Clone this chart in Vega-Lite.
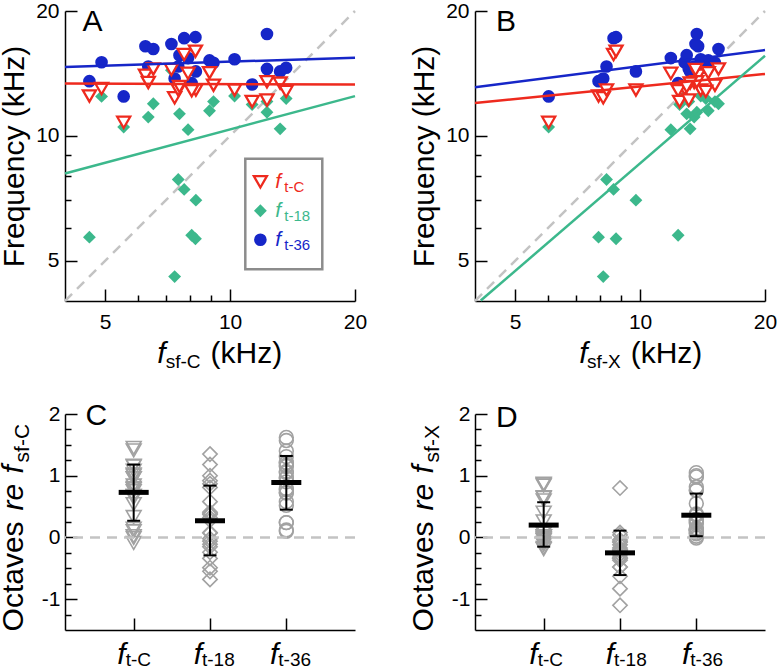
{
"$schema":"https://vega.github.io/schema/vega-lite/v6.json",
"padding":{"left":-2,"top":0,"right":0,"bottom":0},
"config":{
 "font":"Liberation Sans",
 "view":{"stroke":null},
 "axis":{"domainColor":"#000","domainWidth":1.5,"tickColor":"#000","tickWidth":1.5,"labelColor":"#000","labelFontSize":21,"labelFont":"Liberation Sans","grid":false,"titleFont":"Liberation Sans","titleFontSize":30,"titleFontWeight":"normal","titleColor":"#000","labelFlush":false,"labelOverlap":false},
 "text":{"font":"Liberation Sans","color":"#000"}
},
"datasets":{
 "subj":[
  {"fC":4.58,"fX":7.94,"tC":12.48,"t18":5.70,"t36":13.55},
  {"fC":4.90,"fX":12.8,"tC":13.0,"t18":12.45,"t36":15.05},
  {"fC":5.54,"fX":6.02,"tC":10.78,"t18":10.5,"t36":12.45},
  {"fC":6.25,"fX":13.8,"tC":14.0,"t18":14.2,"t36":16.45},
  {"fC":6.35,"fX":13.5,"tC":13.45,"t18":11.1,"t36":14.7},
  {"fC":6.53,"fX":15.45,"tC":14.5,"t18":11.95,"t36":16.2},
  {"fC":7.22,"fX":13.6,"tC":14.45,"t18":14.4,"t36":16.65},
  {"fC":7.35,"fX":8.15,"tC":12.35,"t18":4.58,"t36":13.75},
  {"fC":7.75,"fX":8.63,"tC":15.7,"t18":7.43,"t36":17.2},
  {"fC":8.25,"fX":8.75,"tC":16.0,"t18":5.65,"t36":17.3},
  {"fC":8.27,"fX":9.77,"tC":12.9,"t18":7.0,"t36":14.3},
  {"fC":8.08,"fX":12.35,"tC":12.85,"t18":5.76,"t36":13.4},
  {"fC":7.5,"fX":8.3,"tC":12.9,"t18":7.85,"t36":14.7},
  {"fC":7.92,"fX":11.86,"tC":14.15,"t18":10.35,"t36":15.4},
  {"fC":8.92,"fX":14.6,"tC":14.2,"t18":11.5,"t36":15.2},
  {"fC":9.12,"fX":15.15,"tC":13.25,"t18":12.1,"t36":15.0},
  {"fC":10.25,"fX":14.0,"tC":12.9,"t18":12.48,"t36":15.3},
  {"fC":11.3,"fX":12.45,"tC":12.1,"t18":11.9,"t36":13.3},
  {"fC":12.27,"fX":13.7,"tC":13.5,"t18":11.4,"t36":17.6},
  {"fC":12.27,"fX":13.1,"tC":12.2,"t18":12.1,"t36":14.5},
  {"fC":13.2,"fX":13.2,"tC":13.4,"t18":10.4,"t36":14.3},
  {"fC":13.65,"fX":14.4,"tC":12.8,"t18":12.3,"t36":14.6},
  {"fC":7.55,"fX":12.95,"tC":13.15,"t18":11.3,"t36":15.65}
 ],
 "oct":[
  {"g":"t-C","oc":1.45,"ox":0.65},{"g":"t-C","oc":1.41,"ox":0.02},{"g":"t-C","oc":0.96,"ox":0.84},{"g":"t-C","oc":1.16,"ox":0.02},
  {"g":"t-C","oc":1.08,"ox":-0.01},{"g":"t-C","oc":1.15,"ox":-0.09},{"g":"t-C","oc":1.00,"ox":0.09},{"g":"t-C","oc":0.75,"ox":0.60},
  {"g":"t-C","oc":1.02,"ox":0.86},{"g":"t-C","oc":0.96,"ox":0.87},{"g":"t-C","oc":0.64,"ox":0.40},{"g":"t-C","oc":0.67,"ox":0.06},
  {"g":"t-C","oc":0.78,"ox":0.64},{"g":"t-C","oc":0.84,"ox":0.26},{"g":"t-C","oc":0.67,"ox":-0.04},{"g":"t-C","oc":0.54,"ox":-0.19},
  {"g":"t-C","oc":0.33,"ox":-0.12},{"g":"t-C","oc":0.10,"ox":-0.04},{"g":"t-C","oc":0.14,"ox":-0.02},{"g":"t-C","oc":-0.01,"ox":-0.10},
  {"g":"t-C","oc":0.02,"ox":0.02},{"g":"t-C","oc":-0.09,"ox":-0.17},{"g":"t-C","oc":0.80,"ox":0.02},
  {"g":"t-18","oc":0.32,"ox":-0.48},{"g":"t-18","oc":1.35,"ox":-0.04},{"g":"t-18","oc":0.92,"ox":0.80},{"g":"t-18","oc":1.18,"ox":0.04},
  {"g":"t-18","oc":0.81,"ox":-0.28},{"g":"t-18","oc":0.87,"ox":-0.37},{"g":"t-18","oc":1.00,"ox":0.08},{"g":"t-18","oc":-0.68,"ox":-0.83},
  {"g":"t-18","oc":-0.06,"ox":-0.22},{"g":"t-18","oc":-0.55,"ox":-0.63},{"g":"t-18","oc":-0.24,"ox":-0.48},{"g":"t-18","oc":-0.49,"ox":-1.10},
  {"g":"t-18","oc":0.07,"ox":-0.08},{"g":"t-18","oc":0.39,"ox":-0.20},{"g":"t-18","oc":0.37,"ox":-0.34},{"g":"t-18","oc":0.41,"ox":-0.32},
  {"g":"t-18","oc":0.28,"ox":-0.17},{"g":"t-18","oc":0.08,"ox":-0.07},{"g":"t-18","oc":-0.11,"ox":-0.27},{"g":"t-18","oc":-0.02,"ox":-0.12},
  {"g":"t-18","oc":-0.34,"ox":-0.34},{"g":"t-18","oc":-0.15,"ox":-0.23},{"g":"t-18","oc":0.58,"ox":-0.20},
  {"g":"t-36","oc":1.57,"ox":0.77},{"g":"t-36","oc":1.62,"ox":0.23},{"g":"t-36","oc":1.17,"ox":1.05},{"g":"t-36","oc":1.40,"ox":0.25},
  {"g":"t-36","oc":1.21,"ox":0.12},{"g":"t-36","oc":1.31,"ox":0.07},{"g":"t-36","oc":1.21,"ox":0.29},{"g":"t-36","oc":0.90,"ox":0.76},
  {"g":"t-36","oc":1.15,"ox":1.00},{"g":"t-36","oc":1.07,"ox":0.98},{"g":"t-36","oc":0.79,"ox":0.55},{"g":"t-36","oc":0.73,"ox":0.12},
  {"g":"t-36","oc":0.97,"ox":0.82},{"g":"t-36","oc":0.96,"ox":0.38},{"g":"t-36","oc":0.77,"ox":0.06},{"g":"t-36","oc":0.72,"ox":-0.01},
  {"g":"t-36","oc":0.58,"ox":0.13},{"g":"t-36","oc":0.24,"ox":0.10},{"g":"t-36","oc":0.52,"ox":0.36},{"g":"t-36","oc":0.24,"ox":0.15},
  {"g":"t-36","oc":0.12,"ox":0.12},{"g":"t-36","oc":0.10,"ox":0.02},{"g":"t-36","oc":1.05,"ox":0.27}
 ],
 "summC":[
  {"g":"t-C","m":0.73,"lo":0.27,"hi":1.18},
  {"g":"t-18","m":0.27,"lo":-0.29,"hi":0.84},
  {"g":"t-36","m":0.89,"lo":0.45,"hi":1.32}
 ],
 "summX":[
  {"g":"t-C","m":0.2,"lo":-0.15,"hi":0.57},
  {"g":"t-18","m":-0.25,"lo":-0.61,"hi":0.11},
  {"g":"t-36","m":0.36,"lo":0.02,"hi":0.71}
 ],
 "cats":[{"g":"t-C"},{"g":"t-18"},{"g":"t-36"}],
 "linesA":[
  {"g":"t-C","x":4,"y":13.38},{"g":"t-C","x":20,"y":13.3},
  {"g":"t-18","x":4,"y":8.12},{"g":"t-18","x":20,"y":12.47},
  {"g":"t-36","x":4,"y":14.66},{"g":"t-36","x":20,"y":15.44}
 ],
 "linesB":[
  {"g":"t-C","x":4,"y":12.0},{"g":"t-C","x":20,"y":14.1},
  {"g":"t-18","x":4.13,"y":4.01},{"g":"t-18","x":20,"y":15.6},
  {"g":"t-36","x":4,"y":13.1},{"g":"t-36","x":20,"y":16.1}
 ],
 "diag":[{"x":4,"y":4},{"x":20,"y":20}],
 "one":[{}]
},
"columns":2,
"spacing":{"row":113,"column":120},
"bounds":"flush",
"concat":[
 {
  "width":290,"height":290,
  "layer":[
   {"data":{"name":"diag"},"mark":{"type":"line","color":"#c3c3c3","strokeWidth":2.5,"strokeDash":[10,7]},
    "encoding":{
     "x":{"field":"x","type":"quantitative","scale":{"type":"log","domain":[4,20],"nice":false},
      "axis":{"values":[5,6,7,8,9,10,20],"labelExpr":"indexof([5,10,20], datum.value) >= 0 ? '' + datum.value : ''","tickSize":{"condition":{"test":"indexof([5,10,20], datum.value) >= 0","value":-12},"value":-6},"labelPadding":22,"title":null}},
     "y":{"field":"y","type":"quantitative","scale":{"type":"log","domain":[4,20],"nice":false},
      "axis":{"values":[5,6,7,8,9,10,20],"labelExpr":"indexof([5,10,20], datum.value) >= 0 ? '' + datum.value : ''","tickSize":{"condition":{"test":"indexof([5,10,20], datum.value) >= 0","value":-12},"value":-6},"labelPadding":18,"title":"Frequency (kHz)","titlePadding":6}}}},
   {"data":{"name":"subj"},"mark":{"type":"point","shape":"diamond","filled":true,"color":"#3cb88c","size":165,"opacity":1},
    "encoding":{"x":{"field":"fC","type":"quantitative","scale":{"type":"log","domain":[4,20],"nice":false}},
     "y":{"field":"t18","type":"quantitative","scale":{"type":"log","domain":[4,20],"nice":false}}}},
   {"data":{"name":"subj"},"mark":{"type":"point","shape":"circle","filled":true,"color":"#1626c8","size":160,"opacity":1},
    "encoding":{"x":{"field":"fC","type":"quantitative","scale":{"type":"log","domain":[4,20],"nice":false}},
     "y":{"field":"t36","type":"quantitative","scale":{"type":"log","domain":[4,20],"nice":false}}}},
   {"data":{"name":"subj"},"mark":{"type":"point","shape":"triangle-down","filled":true,"fill":"white","stroke":"#ee2a1e","strokeWidth":2.3,"size":170,"opacity":1},
    "encoding":{"x":{"field":"fC","type":"quantitative","scale":{"type":"log","domain":[4,20],"nice":false}},
     "y":{"field":"tC","type":"quantitative","scale":{"type":"log","domain":[4,20],"nice":false}}}},
   {"data":{"name":"linesA"},"mark":{"type":"line","strokeWidth":2.5},
    "encoding":{"x":{"field":"x","type":"quantitative","scale":{"type":"log","domain":[4,20],"nice":false}},
     "y":{"field":"y","type":"quantitative","scale":{"type":"log","domain":[4,20],"nice":false}},
     "color":{"field":"g","type":"nominal","scale":{"domain":["t-C","t-18","t-36"],"range":["#ee2a1e","#3cb88c","#1626c8"]},"legend":null}}},
   {"data":{"name":"one"},"mark":{"type":"rect","filled":false,"stroke":"#8c8c8c","strokeWidth":2.5},
    "encoding":{"x":{"datum":10.88,"type":"quantitative","scale":{"type":"log","domain":[4,20],"nice":false}},"x2":{"datum":16.68},
     "y":{"datum":8.81,"type":"quantitative","scale":{"type":"log","domain":[4,20],"nice":false}},"y2":{"datum":4.77}}},
   {"data":{"name":"one"},"mark":{"type":"point","shape":"triangle-down","filled":true,"fill":"white","stroke":"#ee2a1e","strokeWidth":2.3,"size":170,"opacity":1},
    "encoding":{"x":{"datum":11.83,"type":"quantitative","scale":{"type":"log","domain":[4,20],"nice":false}},
     "y":{"datum":7.75,"type":"quantitative","scale":{"type":"log","domain":[4,20],"nice":false}}}},
   {"data":{"name":"one"},"mark":{"type":"point","shape":"diamond","filled":true,"color":"#3cb88c","size":165,"opacity":1},
    "encoding":{"x":{"datum":11.83,"type":"quantitative","scale":{"type":"log","domain":[4,20],"nice":false}},
     "y":{"datum":6.6,"type":"quantitative","scale":{"type":"log","domain":[4,20],"nice":false}}}},
   {"data":{"name":"one"},"mark":{"type":"point","shape":"circle","filled":true,"color":"#1626c8","size":160,"opacity":1},
    "encoding":{"x":{"datum":11.83,"type":"quantitative","scale":{"type":"log","domain":[4,20],"nice":false}},
     "y":{"datum":5.62,"type":"quantitative","scale":{"type":"log","domain":[4,20],"nice":false}}}},
   {"data":{"name":"one"},"mark":{"type":"text","text":"f","fontStyle":"italic","fontSize":21,"color":"#ee2a1e","align":"left","baseline":"alphabetic","dy":6.5},
    "encoding":{"x":{"datum":12.85,"type":"quantitative","scale":{"type":"log","domain":[4,20],"nice":false}},
     "y":{"datum":7.75,"type":"quantitative","scale":{"type":"log","domain":[4,20],"nice":false}}}},
   {"data":{"name":"one"},"mark":{"type":"text","text":"t-C","fontSize":15,"color":"#ee2a1e","align":"left","baseline":"alphabetic","dx":9,"dy":10},
    "encoding":{"x":{"datum":12.85,"type":"quantitative","scale":{"type":"log","domain":[4,20],"nice":false}},
     "y":{"datum":7.75,"type":"quantitative","scale":{"type":"log","domain":[4,20],"nice":false}}}},
   {"data":{"name":"one"},"mark":{"type":"text","text":"f","fontStyle":"italic","fontSize":21,"color":"#3cb88c","align":"left","baseline":"alphabetic","dy":6.5},
    "encoding":{"x":{"datum":12.85,"type":"quantitative","scale":{"type":"log","domain":[4,20],"nice":false}},
     "y":{"datum":6.6,"type":"quantitative","scale":{"type":"log","domain":[4,20],"nice":false}}}},
   {"data":{"name":"one"},"mark":{"type":"text","text":"t-18","fontSize":15,"color":"#3cb88c","align":"left","baseline":"alphabetic","dx":9,"dy":10},
    "encoding":{"x":{"datum":12.85,"type":"quantitative","scale":{"type":"log","domain":[4,20],"nice":false}},
     "y":{"datum":6.6,"type":"quantitative","scale":{"type":"log","domain":[4,20],"nice":false}}}},
   {"data":{"name":"one"},"mark":{"type":"text","text":"f","fontStyle":"italic","fontSize":21,"color":"#1626c8","align":"left","baseline":"alphabetic","dy":6.5},
    "encoding":{"x":{"datum":12.85,"type":"quantitative","scale":{"type":"log","domain":[4,20],"nice":false}},
     "y":{"datum":5.62,"type":"quantitative","scale":{"type":"log","domain":[4,20],"nice":false}}}},
   {"data":{"name":"one"},"mark":{"type":"text","text":"t-36","fontSize":15,"color":"#1626c8","align":"left","baseline":"alphabetic","dx":9,"dy":10},
    "encoding":{"x":{"datum":12.85,"type":"quantitative","scale":{"type":"log","domain":[4,20],"nice":false}},
     "y":{"datum":5.62,"type":"quantitative","scale":{"type":"log","domain":[4,20],"nice":false}}}},
   {"data":{"name":"one"},"mark":{"type":"text","text":"A","fontSize":30,"align":"left","baseline":"alphabetic","dx":17.5,"dy":19.5},
    "encoding":{"x":{"datum":4,"type":"quantitative","scale":{"type":"log","domain":[4,20],"nice":false}},
     "y":{"datum":20,"type":"quantitative","scale":{"type":"log","domain":[4,20],"nice":false}}}},
   {"data":{"name":"one"},"mark":{"type":"text","text":"f","fontStyle":"italic","fontSize":30,"align":"right","baseline":"alphabetic","dx":-44.5,"dy":62},
    "encoding":{"x":{"datum":8.944,"type":"quantitative","scale":{"type":"log","domain":[4,20],"nice":false}},
     "y":{"datum":4,"type":"quantitative","scale":{"type":"log","domain":[4,20],"nice":false}}}},
   {"data":{"name":"one"},"mark":{"type":"text","text":"sf-C","fontSize":19,"align":"right","baseline":"alphabetic","dx":-9.5,"dy":67},
    "encoding":{"x":{"datum":8.944,"type":"quantitative","scale":{"type":"log","domain":[4,20],"nice":false}},
     "y":{"datum":4,"type":"quantitative","scale":{"type":"log","domain":[4,20],"nice":false}}}},
   {"data":{"name":"one"},"mark":{"type":"text","text":"(kHz)","fontSize":30,"align":"left","baseline":"alphabetic","dx":0.5,"dy":62},
    "encoding":{"x":{"datum":8.944,"type":"quantitative","scale":{"type":"log","domain":[4,20],"nice":false}},
     "y":{"datum":4,"type":"quantitative","scale":{"type":"log","domain":[4,20],"nice":false}}}}
  ]
 },
 {
  "width":290,"height":290,
  "layer":[
   {"data":{"name":"diag"},"mark":{"type":"line","color":"#c3c3c3","strokeWidth":2.5,"strokeDash":[10,7]},
    "encoding":{
     "x":{"field":"x","type":"quantitative","scale":{"type":"log","domain":[4,20],"nice":false},
      "axis":{"values":[5,6,7,8,9,10,20],"labelExpr":"indexof([5,10,20], datum.value) >= 0 ? '' + datum.value : ''","tickSize":{"condition":{"test":"indexof([5,10,20], datum.value) >= 0","value":-12},"value":-6},"labelPadding":22,"title":null}},
     "y":{"field":"y","type":"quantitative","scale":{"type":"log","domain":[4,20],"nice":false},
      "axis":{"values":[5,6,7,8,9,10,20],"labelExpr":"indexof([5,10,20], datum.value) >= 0 ? '' + datum.value : ''","tickSize":{"condition":{"test":"indexof([5,10,20], datum.value) >= 0","value":-12},"value":-6},"labelPadding":18,"title":"Frequency (kHz)","titlePadding":6}}}},
   {"data":{"name":"subj"},"mark":{"type":"point","shape":"diamond","filled":true,"color":"#3cb88c","size":165,"opacity":1},
    "encoding":{"x":{"field":"fX","type":"quantitative","scale":{"type":"log","domain":[4,20],"nice":false}},
     "y":{"field":"t18","type":"quantitative","scale":{"type":"log","domain":[4,20],"nice":false}}}},
   {"data":{"name":"subj"},"mark":{"type":"point","shape":"circle","filled":true,"color":"#1626c8","size":160,"opacity":1},
    "encoding":{"x":{"field":"fX","type":"quantitative","scale":{"type":"log","domain":[4,20],"nice":false}},
     "y":{"field":"t36","type":"quantitative","scale":{"type":"log","domain":[4,20],"nice":false}}}},
   {"data":{"name":"subj"},"mark":{"type":"point","shape":"triangle-down","filled":true,"fill":"white","stroke":"#ee2a1e","strokeWidth":2.3,"size":170,"opacity":1},
    "encoding":{"x":{"field":"fX","type":"quantitative","scale":{"type":"log","domain":[4,20],"nice":false}},
     "y":{"field":"tC","type":"quantitative","scale":{"type":"log","domain":[4,20],"nice":false}}}},
   {"data":{"name":"linesB"},"mark":{"type":"line","strokeWidth":2.5},
    "encoding":{"x":{"field":"x","type":"quantitative","scale":{"type":"log","domain":[4,20],"nice":false}},
     "y":{"field":"y","type":"quantitative","scale":{"type":"log","domain":[4,20],"nice":false}},
     "color":{"field":"g","type":"nominal","scale":{"domain":["t-C","t-18","t-36"],"range":["#ee2a1e","#3cb88c","#1626c8"]},"legend":null}}},
   {"data":{"name":"one"},"mark":{"type":"text","text":"B","fontSize":30,"align":"left","baseline":"alphabetic","dx":21,"dy":19.5},
    "encoding":{"x":{"datum":4,"type":"quantitative","scale":{"type":"log","domain":[4,20],"nice":false}},
     "y":{"datum":20,"type":"quantitative","scale":{"type":"log","domain":[4,20],"nice":false}}}},
   {"data":{"name":"one"},"mark":{"type":"text","text":"f","fontStyle":"italic","fontSize":30,"align":"right","baseline":"alphabetic","dx":-32.3,"dy":62},
    "encoding":{"x":{"datum":8.944,"type":"quantitative","scale":{"type":"log","domain":[4,20],"nice":false}},
     "y":{"datum":4,"type":"quantitative","scale":{"type":"log","domain":[4,20],"nice":false}}}},
   {"data":{"name":"one"},"mark":{"type":"text","text":"sf-X","fontSize":19,"align":"right","baseline":"alphabetic","dx":0.7,"dy":67},
    "encoding":{"x":{"datum":8.944,"type":"quantitative","scale":{"type":"log","domain":[4,20],"nice":false}},
     "y":{"datum":4,"type":"quantitative","scale":{"type":"log","domain":[4,20],"nice":false}}}},
   {"data":{"name":"one"},"mark":{"type":"text","text":"(kHz)","fontSize":30,"align":"left","baseline":"alphabetic","dx":10.7,"dy":62},
    "encoding":{"x":{"datum":8.944,"type":"quantitative","scale":{"type":"log","domain":[4,20],"nice":false}},
     "y":{"datum":4,"type":"quantitative","scale":{"type":"log","domain":[4,20],"nice":false}}}}
  ]
 },
 {
  "width":290,"height":216,
  "resolve":{"axis":{"y":"independent"}},
  "layer":[
   {"data":{"name":"oct"},"mark":{"type":"point","filled":false,"color":"#a2a2a2","strokeWidth":1.6,"opacity":1},
    "encoding":{
     "x":{"field":"g","type":"nominal","scale":{"type":"point","domain":["t-C","t-18","t-36"],"padding":0.9},"axis":{"labels":false,"tickSize":-12,"title":null}},
     "y":{"field":"oc","type":"quantitative","scale":{"domain":[-1.5,2],"nice":false,"zero":false},
      "axis":{"orient":"left","values":[-1,0,1,2],"labelExpr":"datum.value < 0 ? '-' + (0 - datum.value) : '' + datum.value","tickSize":-12,"labelPadding":17,"title":null}},
     "shape":{"field":"g","type":"nominal","scale":{"domain":["t-C","t-18","t-36"],"range":["triangle-down","diamond","circle"]},"legend":null},
     "size":{"field":"g","type":"nominal","scale":{"domain":["t-C","t-18","t-36"],"range":[220,190,150]},"legend":null}}},
   {"data":{"name":"one"},"mark":{"type":"rule","color":"#c3c3c3","strokeWidth":2.5,"strokeDash":[10,7]},
    "encoding":{"y":{"datum":0,"type":"quantitative","scale":{"domain":[-1.5,2],"nice":false,"zero":false},
     "axis":{"orient":"left","values":[-1.25,-0.75,-0.5,-0.25,0.25,0.5,0.75,1.25,1.5,1.75],"tickSize":-6,"labels":false,"domain":false,"title":null}}}},
   {"data":{"name":"summC"},"mark":{"type":"rule","color":"#000","strokeWidth":2},
    "encoding":{"x":{"field":"g","type":"nominal","scale":{"type":"point","domain":["t-C","t-18","t-36"],"padding":0.9}},
     "y":{"field":"lo","type":"quantitative","scale":{"domain":[-1.5,2],"nice":false,"zero":false},"axis":null},"y2":{"field":"hi"}}},
   {"data":{"name":"summC"},"mark":{"type":"tick","orient":"horizontal","color":"#000","size":13,"thickness":2,"opacity":1},
    "encoding":{"x":{"field":"g","type":"nominal","scale":{"type":"point","domain":["t-C","t-18","t-36"],"padding":0.9}},
     "y":{"field":"lo","type":"quantitative","scale":{"domain":[-1.5,2],"nice":false,"zero":false},"axis":null}}},
   {"data":{"name":"summC"},"mark":{"type":"tick","orient":"horizontal","color":"#000","size":13,"thickness":2,"opacity":1},
    "encoding":{"x":{"field":"g","type":"nominal","scale":{"type":"point","domain":["t-C","t-18","t-36"],"padding":0.9}},
     "y":{"field":"hi","type":"quantitative","scale":{"domain":[-1.5,2],"nice":false,"zero":false},"axis":null}}},
   {"data":{"name":"summC"},"mark":{"type":"tick","orient":"horizontal","color":"#000","size":30,"thickness":5,"opacity":1},
    "encoding":{"x":{"field":"g","type":"nominal","scale":{"type":"point","domain":["t-C","t-18","t-36"],"padding":0.9}},
     "y":{"field":"m","type":"quantitative","scale":{"domain":[-1.5,2],"nice":false,"zero":false},"axis":null}}},
   {"data":{"name":"one"},"mark":{"type":"text","text":"C","fontSize":30,"align":"left","baseline":"alphabetic","dx":-48.3,"dy":11},
    "encoding":{"x":{"datum":"t-C","type":"nominal","scale":{"type":"point","domain":["t-C","t-18","t-36"],"padding":0.9}},
     "y":{"datum":2,"type":"quantitative","scale":{"domain":[-1.5,2],"nice":false,"zero":false},"axis":null}}},
   {"data":{"name":"cats"},"mark":{"type":"text","text":"f","fontStyle":"italic","fontSize":30,"align":"right","baseline":"alphabetic","dx":-8,"dy":33.5},
    "encoding":{"x":{"field":"g","type":"nominal","scale":{"type":"point","domain":["t-C","t-18","t-36"],"padding":0.9}},
     "y":{"datum":-1.5,"type":"quantitative","scale":{"domain":[-1.5,2],"nice":false,"zero":false},"axis":null}}},
   {"data":{"name":"cats"},"mark":{"type":"text","fontSize":19,"align":"left","baseline":"alphabetic","dx":-8,"dy":36},
    "encoding":{"x":{"field":"g","type":"nominal","scale":{"type":"point","domain":["t-C","t-18","t-36"],"padding":0.9}},
     "y":{"datum":-1.5,"type":"quantitative","scale":{"domain":[-1.5,2],"nice":false,"zero":false},"axis":null},
     "text":{"field":"g"}}},
   {"data":{"name":"one"},"mark":{"type":"text","text":"Octaves","fontSize":30,"angle":270,"align":"left","baseline":"alphabetic","dx":-94,"dy":-111},
    "encoding":{"x":{"datum":"t-C","type":"nominal","scale":{"type":"point","domain":["t-C","t-18","t-36"],"padding":0.9}},
     "y":{"datum":0,"type":"quantitative","scale":{"domain":[-1.5,2],"nice":false,"zero":false},"axis":null}}},
   {"data":{"name":"one"},"mark":{"type":"text","text":"re","fontStyle":"italic","fontSize":30,"angle":270,"align":"left","baseline":"alphabetic","dx":27,"dy":-111},
    "encoding":{"x":{"datum":"t-C","type":"nominal","scale":{"type":"point","domain":["t-C","t-18","t-36"],"padding":0.9}},
     "y":{"datum":0,"type":"quantitative","scale":{"domain":[-1.5,2],"nice":false,"zero":false},"axis":null}}},
   {"data":{"name":"one"},"mark":{"type":"text","text":"f","fontStyle":"italic","fontSize":30,"angle":270,"align":"left","baseline":"alphabetic","dx":64,"dy":-111},
    "encoding":{"x":{"datum":"t-C","type":"nominal","scale":{"type":"point","domain":["t-C","t-18","t-36"],"padding":0.9}},
     "y":{"datum":0,"type":"quantitative","scale":{"domain":[-1.5,2],"nice":false,"zero":false},"axis":null}}},
   {"data":{"name":"one"},"mark":{"type":"text","text":"sf-C","fontSize":21,"angle":270,"align":"left","baseline":"alphabetic","dx":75,"dy":-105},
    "encoding":{"x":{"datum":"t-C","type":"nominal","scale":{"type":"point","domain":["t-C","t-18","t-36"],"padding":0.9}},
     "y":{"datum":0,"type":"quantitative","scale":{"domain":[-1.5,2],"nice":false,"zero":false},"axis":null}}}
  ]
 },
 {
  "width":290,"height":216,
  "resolve":{"axis":{"y":"independent"}},
  "layer":[
   {"data":{"name":"oct"},"mark":{"type":"point","filled":false,"color":"#a2a2a2","strokeWidth":1.6,"opacity":1},
    "encoding":{
     "x":{"field":"g","type":"nominal","scale":{"type":"point","domain":["t-C","t-18","t-36"],"padding":0.9},"axis":{"labels":false,"tickSize":-12,"title":null}},
     "y":{"field":"ox","type":"quantitative","scale":{"domain":[-1.5,2],"nice":false,"zero":false},
      "axis":{"orient":"left","values":[-1,0,1,2],"labelExpr":"datum.value < 0 ? '-' + (0 - datum.value) : '' + datum.value","tickSize":-12,"labelPadding":17,"title":null}},
     "shape":{"field":"g","type":"nominal","scale":{"domain":["t-C","t-18","t-36"],"range":["triangle-down","diamond","circle"]},"legend":null},
     "size":{"field":"g","type":"nominal","scale":{"domain":["t-C","t-18","t-36"],"range":[220,190,150]},"legend":null}}},
   {"data":{"name":"one"},"mark":{"type":"rule","color":"#c3c3c3","strokeWidth":2.5,"strokeDash":[10,7]},
    "encoding":{"y":{"datum":0,"type":"quantitative","scale":{"domain":[-1.5,2],"nice":false,"zero":false},
     "axis":{"orient":"left","values":[-1.25,-0.75,-0.5,-0.25,0.25,0.5,0.75,1.25,1.5,1.75],"tickSize":-6,"labels":false,"domain":false,"title":null}}}},
   {"data":{"name":"summX"},"mark":{"type":"rule","color":"#000","strokeWidth":2},
    "encoding":{"x":{"field":"g","type":"nominal","scale":{"type":"point","domain":["t-C","t-18","t-36"],"padding":0.9}},
     "y":{"field":"lo","type":"quantitative","scale":{"domain":[-1.5,2],"nice":false,"zero":false},"axis":null},"y2":{"field":"hi"}}},
   {"data":{"name":"summX"},"mark":{"type":"tick","orient":"horizontal","color":"#000","size":13,"thickness":2,"opacity":1},
    "encoding":{"x":{"field":"g","type":"nominal","scale":{"type":"point","domain":["t-C","t-18","t-36"],"padding":0.9}},
     "y":{"field":"lo","type":"quantitative","scale":{"domain":[-1.5,2],"nice":false,"zero":false},"axis":null}}},
   {"data":{"name":"summX"},"mark":{"type":"tick","orient":"horizontal","color":"#000","size":13,"thickness":2,"opacity":1},
    "encoding":{"x":{"field":"g","type":"nominal","scale":{"type":"point","domain":["t-C","t-18","t-36"],"padding":0.9}},
     "y":{"field":"hi","type":"quantitative","scale":{"domain":[-1.5,2],"nice":false,"zero":false},"axis":null}}},
   {"data":{"name":"summX"},"mark":{"type":"tick","orient":"horizontal","color":"#000","size":30,"thickness":5,"opacity":1},
    "encoding":{"x":{"field":"g","type":"nominal","scale":{"type":"point","domain":["t-C","t-18","t-36"],"padding":0.9}},
     "y":{"field":"m","type":"quantitative","scale":{"domain":[-1.5,2],"nice":false,"zero":false},"axis":null}}},
   {"data":{"name":"one"},"mark":{"type":"text","text":"D","fontSize":30,"align":"left","baseline":"alphabetic","dx":-47.7,"dy":12.7},
    "encoding":{"x":{"datum":"t-C","type":"nominal","scale":{"type":"point","domain":["t-C","t-18","t-36"],"padding":0.9}},
     "y":{"datum":2,"type":"quantitative","scale":{"domain":[-1.5,2],"nice":false,"zero":false},"axis":null}}},
   {"data":{"name":"cats"},"mark":{"type":"text","text":"f","fontStyle":"italic","fontSize":30,"align":"right","baseline":"alphabetic","dx":-6,"dy":33.5},
    "encoding":{"x":{"field":"g","type":"nominal","scale":{"type":"point","domain":["t-C","t-18","t-36"],"padding":0.9}},
     "y":{"datum":-1.5,"type":"quantitative","scale":{"domain":[-1.5,2],"nice":false,"zero":false},"axis":null}}},
   {"data":{"name":"cats"},"mark":{"type":"text","fontSize":19,"align":"left","baseline":"alphabetic","dx":-6,"dy":36},
    "encoding":{"x":{"field":"g","type":"nominal","scale":{"type":"point","domain":["t-C","t-18","t-36"],"padding":0.9}},
     "y":{"datum":-1.5,"type":"quantitative","scale":{"domain":[-1.5,2],"nice":false,"zero":false},"axis":null},
     "text":{"field":"g"}}},
   {"data":{"name":"one"},"mark":{"type":"text","text":"Octaves","fontSize":30,"angle":270,"align":"left","baseline":"alphabetic","dx":-94,"dy":-111},
    "encoding":{"x":{"datum":"t-C","type":"nominal","scale":{"type":"point","domain":["t-C","t-18","t-36"],"padding":0.9}},
     "y":{"datum":0,"type":"quantitative","scale":{"domain":[-1.5,2],"nice":false,"zero":false},"axis":null}}},
   {"data":{"name":"one"},"mark":{"type":"text","text":"re","fontStyle":"italic","fontSize":30,"angle":270,"align":"left","baseline":"alphabetic","dx":27,"dy":-111},
    "encoding":{"x":{"datum":"t-C","type":"nominal","scale":{"type":"point","domain":["t-C","t-18","t-36"],"padding":0.9}},
     "y":{"datum":0,"type":"quantitative","scale":{"domain":[-1.5,2],"nice":false,"zero":false},"axis":null}}},
   {"data":{"name":"one"},"mark":{"type":"text","text":"f","fontStyle":"italic","fontSize":30,"angle":270,"align":"left","baseline":"alphabetic","dx":64,"dy":-111},
    "encoding":{"x":{"datum":"t-C","type":"nominal","scale":{"type":"point","domain":["t-C","t-18","t-36"],"padding":0.9}},
     "y":{"datum":0,"type":"quantitative","scale":{"domain":[-1.5,2],"nice":false,"zero":false},"axis":null}}},
   {"data":{"name":"one"},"mark":{"type":"text","text":"sf-X","fontSize":21,"angle":270,"align":"left","baseline":"alphabetic","dx":75,"dy":-105},
    "encoding":{"x":{"datum":"t-C","type":"nominal","scale":{"type":"point","domain":["t-C","t-18","t-36"],"padding":0.9}},
     "y":{"datum":0,"type":"quantitative","scale":{"domain":[-1.5,2],"nice":false,"zero":false},"axis":null}}}
  ]
 }
]
}
